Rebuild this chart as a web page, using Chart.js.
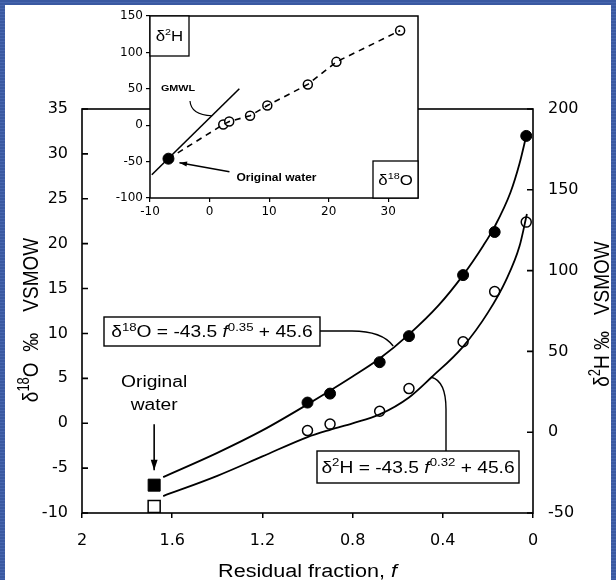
<!DOCTYPE html>
<html>
<head>
<meta charset="utf-8">
<script src="https://cdn.jsdelivr.net/npm/chart.js@4"></script>
<style>
  html, body { margin: 0; padding: 0; }
  body {
    width: 616px; height: 580px; overflow: hidden; position: relative;
    background: repeating-linear-gradient(to bottom, #3a59a1 0px, #3a59a1 2px, #4766ae 2px, #4766ae 3px);
  }
  #paper { position: absolute; left: 5px; top: 5px; width: 606px; height: 575px; background: #fff; }
  #main { position: absolute; left: 0; top: 0; }
  #inset { position: absolute; left: 95px; top: 5px; }
</style>
</head>
<body>
<div id="paper"></div>
<canvas id="main" width="616" height="580"></canvas>
<canvas id="inset" width="330" height="225"></canvas>
<script>
// measured samples: residual fraction f, d18O (left axis), d2H (right axis)
const fracF = [1.0, 0.9, 0.68, 0.55, 0.31, 0.17, 0.03];
const d18O = [2.3, 3.3, 6.8, 9.7, 16.5, 21.3, 32.0];
const d2H = [1, 5, 13, 27, 56, 87, 130];

// original water
const origF = 1.68;
const origO = -6.9;
const origH = -46;

// fitted curves
const fitF_O = [1.64, 1.4, 1.2, 1.0, 0.8, 0.68, 0.55, 0.42, 0.31, 0.22, 0.17, 0.1, 0.06, 0.03];
const fitO = [-6.0, -3.3, -0.8, 2.1, 5.2, 7.2, 9.9, 13.1, 16.5, 19.8, 21.9, 25.7, 28.9, 32.0];
const fitF_H = [1.64, 1.4, 1.2, 1.0, 0.9, 0.8, 0.68, 0.55, 0.45, 0.31, 0.2, 0.12, 0.06, 0.027];
const fitH = [-39.5, -27, -15, -3, 1.5, 5.5, 11, 21.5, 34, 53, 74, 94, 115, 135];

// GMWL segment in the inset (d18O, d2H)
const gmwlO = [-9.7, 5];
const gmwlH = [-68, 50];

const xTicks = [2, 1.6, 1.2, 0.8, 0.4, 0];
const insetXTicks = [-10, 0, 10, 20, 30];

const SANS = '"Liberation Sans", Arial, sans-serif';
const TICKF = '"DejaVu Sans", sans-serif';
const SX = 1.2; // the scanned figure is stretched sideways

function fontFor(k, size) {
  if (k === 's') return Math.round(size * 0.66) + 'px ' + SANS;
  if (k === 'i') return 'italic ' + size + 'px ' + SANS;
  if (k === 'b') return 'bold ' + size + 'px ' + SANS;
  return size + 'px ' + SANS;
}

function drawRich(ctx, parts, x, y, size, align, stretch) {
  ctx.save();
  ctx.translate(x, y);
  ctx.scale(stretch, 1);
  ctx.textAlign = 'left';
  ctx.textBaseline = 'alphabetic';
  let w = 0;
  parts.forEach(([t, k]) => { ctx.font = fontFor(k, size); w += ctx.measureText(t).width; });
  let cx = align === 'center' ? -w / 2 : align === 'right' ? -w : 0;
  parts.forEach(([t, k]) => {
    ctx.font = fontFor(k, size);
    ctx.fillText(t, cx, k === 's' ? -size * 0.4 : 0);
    cx += ctx.measureText(t).width;
  });
  ctx.restore();
}

function vTitle(ctx, parts, cx, cy, size) {
  ctx.save();
  ctx.translate(cx, cy);
  ctx.scale(SX, 1);
  ctx.rotate(-Math.PI / 2);
  drawRich(ctx, parts, 0, size * 0.36, size, 'center', 1);
  ctx.restore();
}

function arrow(ctx, x1, y1, x2, y2, head) {
  ctx.beginPath();
  ctx.moveTo(x1, y1);
  ctx.lineTo(x2, y2);
  ctx.stroke();
  const ang = Math.atan2(y2 - y1, x2 - x1);
  ctx.beginPath();
  ctx.moveTo(x2, y2);
  ctx.lineTo(x2 - head * Math.cos(ang - 0.32), y2 - head * Math.sin(ang - 0.32));
  ctx.lineTo(x2 - head * Math.cos(ang + 0.32), y2 - head * Math.sin(ang + 0.32));
  ctx.closePath();
  ctx.fill();
}

function boxedText(ctx, parts, x, y, w, h, size) {
  ctx.fillStyle = '#fff';
  ctx.fillRect(x, y, w, h);
  ctx.strokeRect(x, y, w, h);
  ctx.fillStyle = '#000';
  drawRich(ctx, parts, x + w / 2, y + h / 2 + size * 0.36, size, 'center', SX);
}

const mainDecor = {
  id: 'mainDecor',
  afterDraw(chart) {
    const { ctx, chartArea: a, scales } = chart;
    const sx = scales.x, sy = scales.y, sy2 = scales.y2;
    ctx.save();
    ctx.strokeStyle = '#000';
    ctx.fillStyle = '#000';
    ctx.lineWidth = 1.6;
    ctx.strokeRect(a.left, a.top, a.right - a.left, a.bottom - a.top);

    // inward ticks on both vertical axes
    ctx.beginPath();
    sy.ticks.forEach(t => { const p = sy.getPixelForValue(t.value); ctx.moveTo(a.left, p); ctx.lineTo(a.left + 6, p); });
    sy2.ticks.forEach(t => { const p = sy2.getPixelForValue(t.value); ctx.moveTo(a.right, p); ctx.lineTo(a.right - 6, p); });
    ctx.stroke();

    // original water note + arrow
    const ox = sx.getPixelForValue(origF);
    const oy = sy.getPixelForValue(origO);
    drawRich(ctx, [['Original', '']], ox, oy - 98, 16, 'center', SX);
    drawRich(ctx, [['water', '']], ox, oy - 75, 16, 'center', SX);
    ctx.lineWidth = 1.6;
    arrow(ctx, ox, oy - 61, ox, oy - 15, 11);

    // equation boxes and leaders
    ctx.lineWidth = 1.4;
    boxedText(ctx, [['δ', ''], ['18', 's'], ['O = -43.5 ', ''], ['f', 'i'], ['0.35', 's'], [' + 45.6', '']], 104, 317, 216, 29, 16);
    ctx.beginPath();
    ctx.moveTo(320, 331);
    ctx.lineTo(352, 331);
    ctx.quadraticCurveTo(382, 331, sx.getPixelForValue(0.62), sy.getPixelForValue(8.6));
    ctx.stroke();

    boxedText(ctx, [['δ', ''], ['2', 's'], ['H = -43.5 ', ''], ['f', 'i'], ['0.32', 's'], [' + 45.6', '']], 317, 451, 202, 32, 16);
    const lx = sx.getPixelForValue(0.45), ly = sy2.getPixelForValue(34);
    ctx.beginPath();
    ctx.moveTo(lx, ly);
    ctx.quadraticCurveTo(446, ly + 4, 446, ly + 32);
    ctx.lineTo(446, 451);
    ctx.stroke();

    // axis titles
    drawRich(ctx, [['Residual fraction, ', ''], ['f', 'i']], (a.left + a.right) / 2, 577, 18, 'center', SX);
    vTitle(ctx, [['δ', ''], ['18', 's'], ['O  ‰    VSMOW', '']], 30, 320, 19);
    vTitle(ctx, [['δ', ''], ['2', 's'], ['H ‰   VSMOW', '']], 601, 314, 19);
    ctx.restore();
  }
};

new Chart(document.getElementById('main'), {
  type: 'scatter',
  data: {
    datasets: [
      { data: fitF_O.map((f, i) => ({ x: f, y: fitO[i] })), yAxisID: 'y', showLine: true,
        borderColor: '#000', borderWidth: 1.8, pointRadius: 0, cubicInterpolationMode: 'monotone' },
      { data: fitF_H.map((f, i) => ({ x: f, y: fitH[i] })), yAxisID: 'y2', showLine: true,
        borderColor: '#000', borderWidth: 1.8, pointRadius: 0, cubicInterpolationMode: 'monotone' },
      { data: fracF.map((f, i) => ({ x: f, y: d18O[i] })), yAxisID: 'y',
        pointRadius: 5.5, backgroundColor: '#000', borderColor: '#000', borderWidth: 1 },
      { data: fracF.map((f, i) => ({ x: f, y: d2H[i] })), yAxisID: 'y2',
        pointRadius: 5, backgroundColor: '#fff', borderColor: '#000', borderWidth: 1.5 },
      { data: [{ x: origF, y: origO }], yAxisID: 'y', pointStyle: 'rect',
        pointRadius: 8.5, backgroundColor: '#000', borderColor: '#000', borderWidth: 1 },
      { data: [{ x: origF, y: origH }], yAxisID: 'y2', pointStyle: 'rect',
        pointRadius: 8.5, backgroundColor: '#fff', borderColor: '#000', borderWidth: 1.5 }
    ]
  },
  options: {
    responsive: false,
    animation: false,
    events: [],
    layout: { padding: { top: 109, left: 0, right: 0, bottom: 0 } },
    plugins: { legend: { display: false }, tooltip: { enabled: false } },
    scales: {
      x: {
        type: 'linear', position: 'bottom', reverse: true, min: 0, max: 2,
        afterBuildTicks: s => { s.ticks = xTicks.map(v => ({ value: v })); },
        afterFit: s => { s.height = 67; },
        grid: { drawOnChartArea: false, drawTicks: true, tickLength: 5, color: '#000', lineWidth: 1.5 },
        border: { display: false },
        ticks: { font: { family: TICKF, size: 16 }, color: '#000', padding: 13, maxRotation: 0,
          callback: v => String(+Number(v).toFixed(1)) }
      },
      y: {
        position: 'left', min: -10, max: 35,
        afterFit: s => { s.width = 82; },
        grid: { display: false, drawTicks: false },
        border: { display: false },
        ticks: { stepSize: 5, font: { family: TICKF, size: 16 }, color: '#000', padding: 14 }
      },
      y2: {
        position: 'right', min: -50, max: 200,
        afterFit: s => { s.width = 83; },
        grid: { display: false, drawTicks: false },
        border: { display: false },
        ticks: { stepSize: 50, font: { family: TICKF, size: 16 }, color: '#000', padding: 15 }
      }
    }
  },
  plugins: [mainDecor]
});

const insetDecor = {
  id: 'insetDecor',
  beforeDraw(chart) {
    const { ctx, chartArea: a } = chart;
    ctx.save();
    ctx.fillStyle = '#fff';
    ctx.fillRect(a.left, a.top, a.right - a.left, a.bottom - a.top);
    ctx.restore();
  },
  afterDraw(chart) {
    const { ctx, chartArea: a, scales } = chart;
    const sx = scales.x, sy = scales.y;
    ctx.save();
    ctx.strokeStyle = '#000';
    ctx.fillStyle = '#000';
    ctx.lineWidth = 1.5;
    ctx.strokeRect(a.left, a.top, a.right - a.left, a.bottom - a.top);

    ctx.lineWidth = 1.3;
    boxedText(ctx, [['δ', ''], ['2', 's'], ['H', '']], a.left, a.top, 39, 40, 14);
    boxedText(ctx, [['δ', ''], ['18', 's'], ['O', '']], a.right - 45, a.bottom - 37, 45, 37, 14);

    // GMWL label and its curved pointer
    drawRich(ctx, [['GMWL', 'b']], 83, 86, 9, 'center', SX);
    ctx.lineWidth = 1.2;
    ctx.beginPath();
    ctx.moveTo(95, 96);
    ctx.quadraticCurveTo(96, 110, sx.getPixelForValue(0.4), sy.getPixelForValue(13));
    ctx.stroke();

    // original water pointer
    const cx = sx.getPixelForValue(origO), cy = sy.getPixelForValue(origH);
    drawRich(ctx, [['Original water', 'b']], cx + 68, cy + 22, 10, 'left', SX);
    ctx.lineWidth = 1.4;
    arrow(ctx, cx + 61, cy + 13, cx + 11, cy + 4, 8);
    ctx.restore();
  }
};

new Chart(document.getElementById('inset'), {
  type: 'scatter',
  data: {
    datasets: [
      { data: gmwlO.map((o, i) => ({ x: o, y: gmwlH[i] })), showLine: true,
        borderColor: '#000', borderWidth: 1.6, pointRadius: 0 },
      { data: [{ x: origO, y: origH }].concat(d18O.map((o, i) => ({ x: o, y: d2H[i] }))), showLine: true,
        borderColor: '#000', borderWidth: 1.6, borderDash: [6, 5], pointRadius: 0 },
      { data: d18O.map((o, i) => ({ x: o, y: d2H[i] })),
        pointRadius: 4.5, backgroundColor: '#fff', borderColor: '#000', borderWidth: 1.5 },
      { data: [{ x: origO, y: origH }],
        pointRadius: 5.5, backgroundColor: '#000', borderColor: '#000', borderWidth: 1 }
    ]
  },
  options: {
    responsive: false,
    animation: false,
    events: [],
    layout: { padding: { top: 11, right: 7, left: 0, bottom: 0 } },
    plugins: { legend: { display: false }, tooltip: { enabled: false } },
    scales: {
      x: {
        min: -10, max: 35,
        afterBuildTicks: s => { s.ticks = insetXTicks.map(v => ({ value: v })); },
        afterFit: s => { s.height = 32; },
        grid: { drawOnChartArea: false, tickLength: 4, color: '#000', lineWidth: 1.2 },
        border: { display: false },
        ticks: { font: { family: TICKF, size: 12 }, color: '#000', padding: 3, maxRotation: 0 }
      },
      y: {
        min: -100, max: 150,
        afterFit: s => { s.width = 55; },
        grid: { drawOnChartArea: false, tickLength: 4, color: '#000', lineWidth: 1.2 },
        border: { display: false },
        ticks: { stepSize: 50, font: { family: TICKF, size: 12 }, color: '#000', padding: 3 }
      }
    }
  },
  plugins: [insetDecor]
});
</script>
</body>
</html>
